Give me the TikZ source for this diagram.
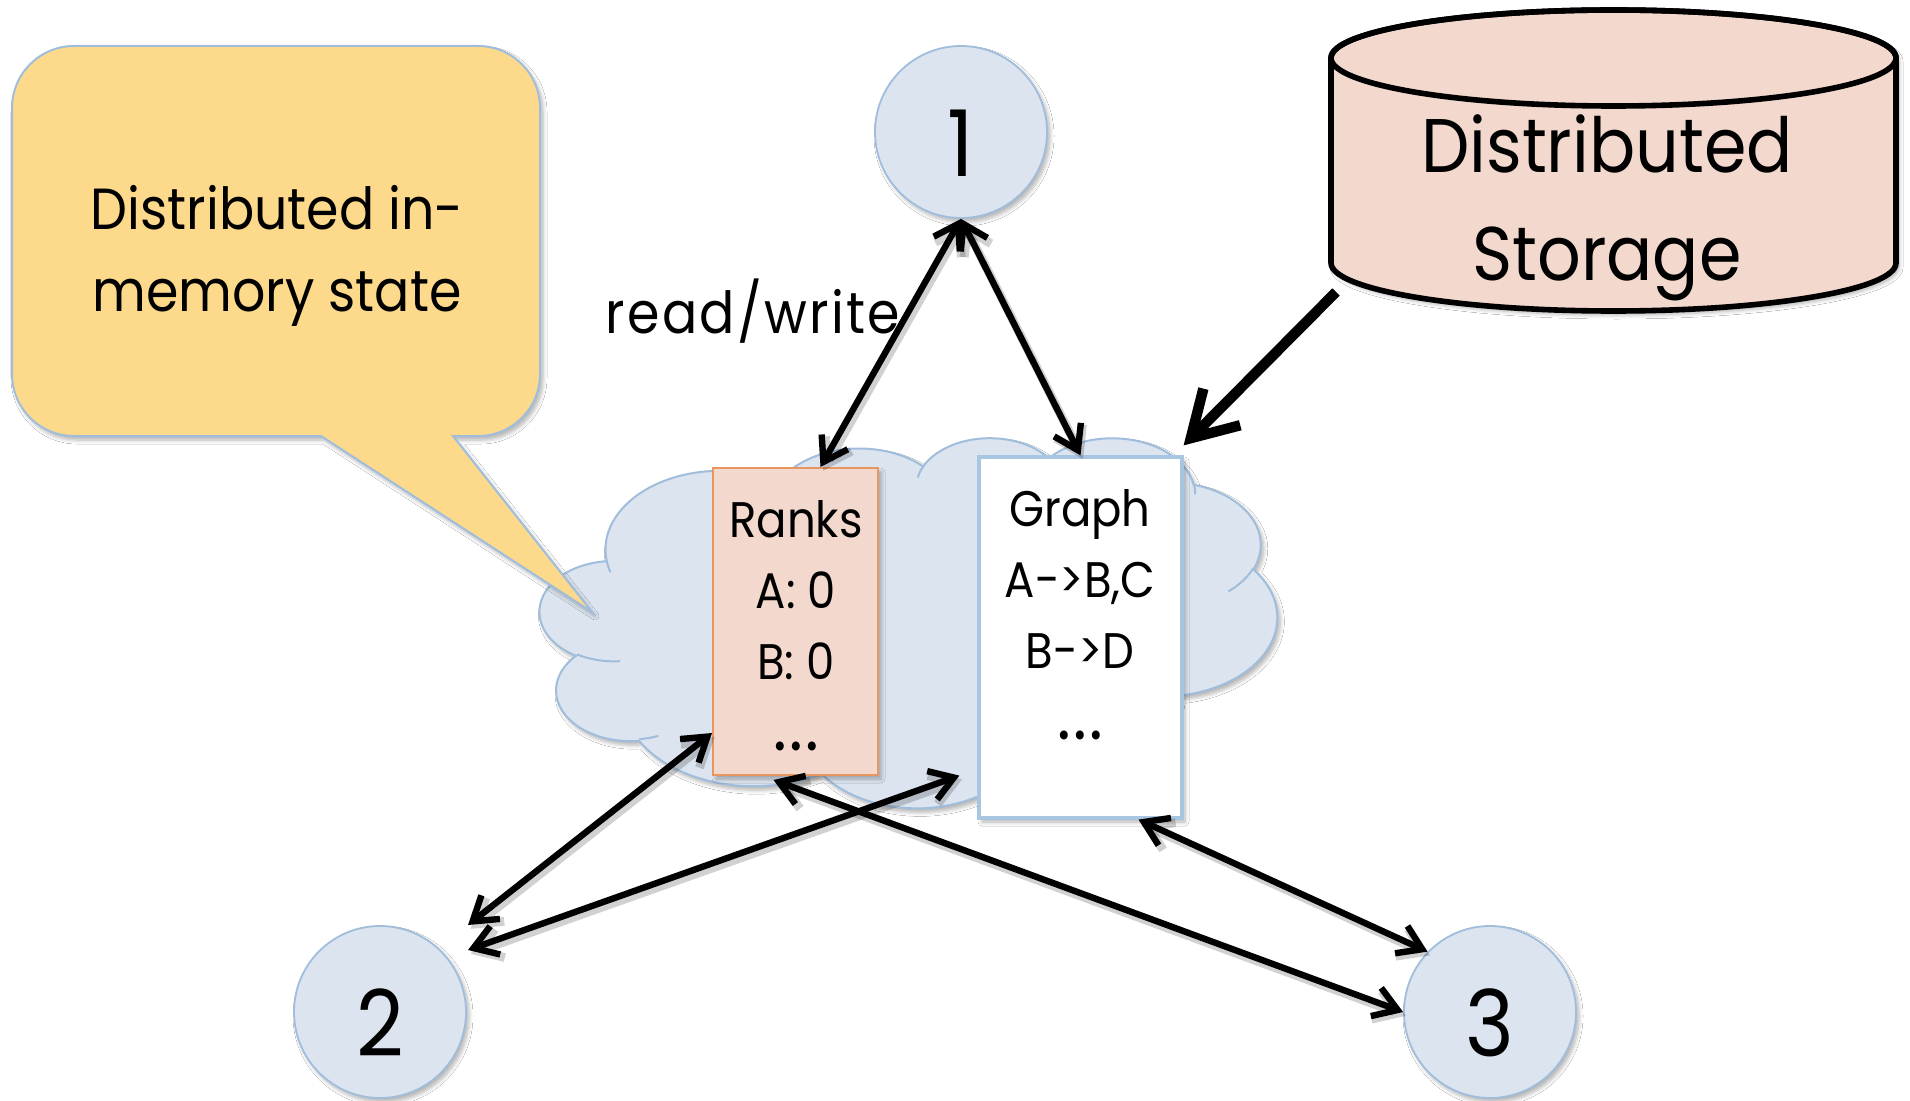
\documentclass[tikz,border=0pt]{standalone}
\usepackage{fontspec}
\setmainfont{Poppins}[FakeStretch=0.9]
\usetikzlibrary{arrows.meta,calc,shadows.blur}
\definecolor{cloudfill}{RGB}{219,228,239}
\definecolor{cloudline}{RGB}{160,190,220}
\definecolor{notefill}{RGB}{253,218,139}
\definecolor{rankfill}{RGB}{242,216,205}
\definecolor{rankline}{RGB}{232,150,95}
\definecolor{graphline}{RGB}{168,198,225}
% one puff of the cloud outline: radii, start angle and sweep (angles measured to the ellipse point)
\newcommand\cloudarc[4]{arc[x radius=#1,y radius=#2,start angle={pa(#1,#2,#3)},delta angle={pd(#1,#2,#3,#4)}]}
% widely spaced, heavier ellipsis
\newcommand\moredots{{\fontsize{36}{35.5}\selectfont.\kern1.2pt.\kern1.2pt.}}
\begin{document}
\begin{tikzpicture}[x=0.5pt,y=-0.5pt,
  declare function={
    pa(\pw,\ph,\pb)=atan2(\pw*sin(\pb),\ph*cos(\pb));
    pd(\pw,\ph,\pb,\ps)=(pa(\pw,\ph,\pb+\ps)-pa(\pw,\ph,\pb))-360*round((pa(\pw,\ph,\pb+\ps)-pa(\pw,\ph,\pb)-\ps)/360);},
  softshadow/.style={blur shadow={shadow xshift=1.5pt,shadow yshift=-2pt,shadow blur radius=2pt,shadow blur steps=6,shadow opacity=30}},
  machine/.style={circle,draw=cloudline,line width=0.9pt,fill=cloudfill,minimum size=86pt,inner sep=0pt,
    font=\fontsize{46}{46}\selectfont,text height=44.5pt,text depth=0pt,softshadow},
  rankbox/.style={rectangle,draw=rankline,line width=1pt,fill=rankfill,inner sep=0pt,softshadow},
  graphbox/.style={rectangle,draw=graphline,line width=1.6pt,fill=white,inner sep=0pt,softshadow},
  boxtext/.style={inner sep=0pt,align=center,anchor=north,font=\fontsize{25}{35.5}\selectfont},
  linkshadow/.style={preaction={draw=black,opacity=0.18,line width=4.4pt,transform canvas={xshift=1.3pt,yshift=-1.9pt}}},
  link/.style={linkshadow,draw=black,line width=3.2pt,
    arrows={Straight Barb[length=11.5pt,width=15pt]-Straight Barb[length=11.5pt,width=15pt]}},
  feed/.style={line width=5.2pt,arrows={-Straight Barb[length=22pt,width=26pt]}}
]
\useasboundingbox (0,0) rectangle (1910,1101);
\fill[white] (0,0) rectangle (1910,1101);

% shared in-memory state: the cloud
\begin{scope}[shift={(540,437)},x=0.8530pt,y=-0.42824pt]
  \draw[cloudline,line width=1pt,fill=cloudfill,softshadow] (39.00,143.70)
    \cloudarc{67.53}{91.90}{-190.4875}{123.7805}
    \cloudarc{53.33}{72.67}{-144.1024}{89.9452}
    \cloudarc{43.65}{59.45}{-145.8079}{99.7230}
    \cloudarc{48.57}{65.95}{-130.9861}{117.2417}
    \cloudarc{53.33}{72.73}{-78.7089}{109.0269}
    \cloudarc{67.75}{92.20}{-46.2673}{130.2690}
    \cloudarc{57.85}{78.67}{0.6250}{114.0333}
    \cloudarc{67.52}{92.15}{22.4516}{115.1726}
    \cloudarc{77.20}{105.43}{66.2426}{75.7110}
    \cloudarc{43.60}{59.18}{-274.9421}{146.7356}
    \cloudarc{43.45}{59.45}{-246.8285}{152.5225}
    -- cycle;
  \draw[cloudline,line width=1pt]
    (46.93,261.77) \cloudarc{43.45}{59.45}{86.7420}{26.4295}
    (69.28,348.99) \cloudarc{43.60}{59.18}{73.6105}{11.4475}
    (164.78,390.90) \cloudarc{67.52}{92.15}{137.6242}{14.0811}
    (288.27,347.51) \cloudarc{67.52}{92.15}{6.4533}{15.9984}
    (341.29,229.54) \cloudarc{57.85}{78.67}{-70.2924}{70.9174}
    (417.98,153.54) \cloudarc{53.33}{72.73}{30.3180}{27.7515}
    (383.24,54.26) \cloudarc{48.57}{65.95}{-13.7443}{14.8589}
    (290.78,39.52) \cloudarc{48.57}{65.95}{-149.1815}{18.1954}
    (221.41,47.20) \cloudarc{43.65}{59.45}{-163.4943}{17.6864}
    (140.00,51.92) \cloudarc{67.53}{91.90}{-66.7070}{12.3194}
    (41.27,157.89) \cloudarc{67.53}{91.90}{157.6544}{11.8582};
\end{scope}

% speech bubble
\draw[cloudline,line width=1pt,fill=notefill,softshadow]
  (453,436) -- (478,436) arc[start angle=90,end angle=0,radius=62]
  -- (540,108) arc[start angle=0,end angle=-90,radius=62]
  -- (74,46) arc[start angle=-90,end angle=-180,radius=62]
  -- (12,374) arc[start angle=180,end angle=90,radius=62]
  -- (321,436) -- (592,612) -- cycle;
\node[inner sep=0pt,align=center,anchor=north,font=\fontsize{29}{41}\selectfont] (note) at (277,185)
  {Distributed in-\\memory state};

% distributed storage
\draw[line width=2.8pt,fill=rankfill,softshadow] (1331,58) -- (1331,263)
  arc[start angle=180,end angle=0,x radius=282.5,y radius=48] -- (1896,58)
  arc[start angle=0,end angle=-180,x radius=282.5,y radius=48] -- cycle;
\draw[line width=2.8pt] (1613.5,58) ellipse[x radius=282.5,y radius=48];
\node[inner sep=0pt,align=center,anchor=north,font=\fontsize{38}{54}\selectfont] (store) at (1607,114)
  {Distributed\\Storage};
\coordinate (storeout) at (1336,292);

% state tables
\node[rankbox,minimum width=82.5pt,minimum height=153.5pt] (ranks) at (795.5,621.5) {};
\node[boxtext] (rankstext) at (796,500) {Ranks\\A: 0\\B: 0\\\moredots};
\node[graphbox,minimum width=101.5pt,minimum height=180.5pt] (graph) at (1080.5,637.5) {};
\node[boxtext] (graphtext) at (1080,489) {Graph\\A->B,C\\B->D\\\moredots};

% workers
\node[machine] (n1) at (961,132) {1};
\node[machine] (n2) at (380,1012) {2};
\node[machine] (n3) at (1490,1012) {3};

\node[inner sep=0pt,anchor=base,font=\fontsize{29}{29}\selectfont\addfontfeature{LetterSpace=4}] (rw) at (753,334) {read/write};

% connectors
\coordinate (c2a) at ($(n2.center)+(88,-87)$);
\coordinate (c2b) at ($(n2.center)+(88,-62)$);
\coordinate (c4) at ($(graph.south west)+(-18,-44)$);
\draw[link] (n1.south) -- ($(ranks.north)+(25,0)$);
\draw[link] (n1.south) -- (graph.north);
\draw[link] ($(ranks.west)+(0,111.5)$) -- (c2a);
\draw[link] (c4) -- (c2b);
\draw[link] ($(ranks.south)+(-22,4)$) -- (n3.west);
\draw[link] ($(graph.south)+(58,0)$) -- (n3.136);
\draw[feed] (storeout) -- ($(graph.north east)+(0,-10)$);
\end{tikzpicture}
\end{document}
